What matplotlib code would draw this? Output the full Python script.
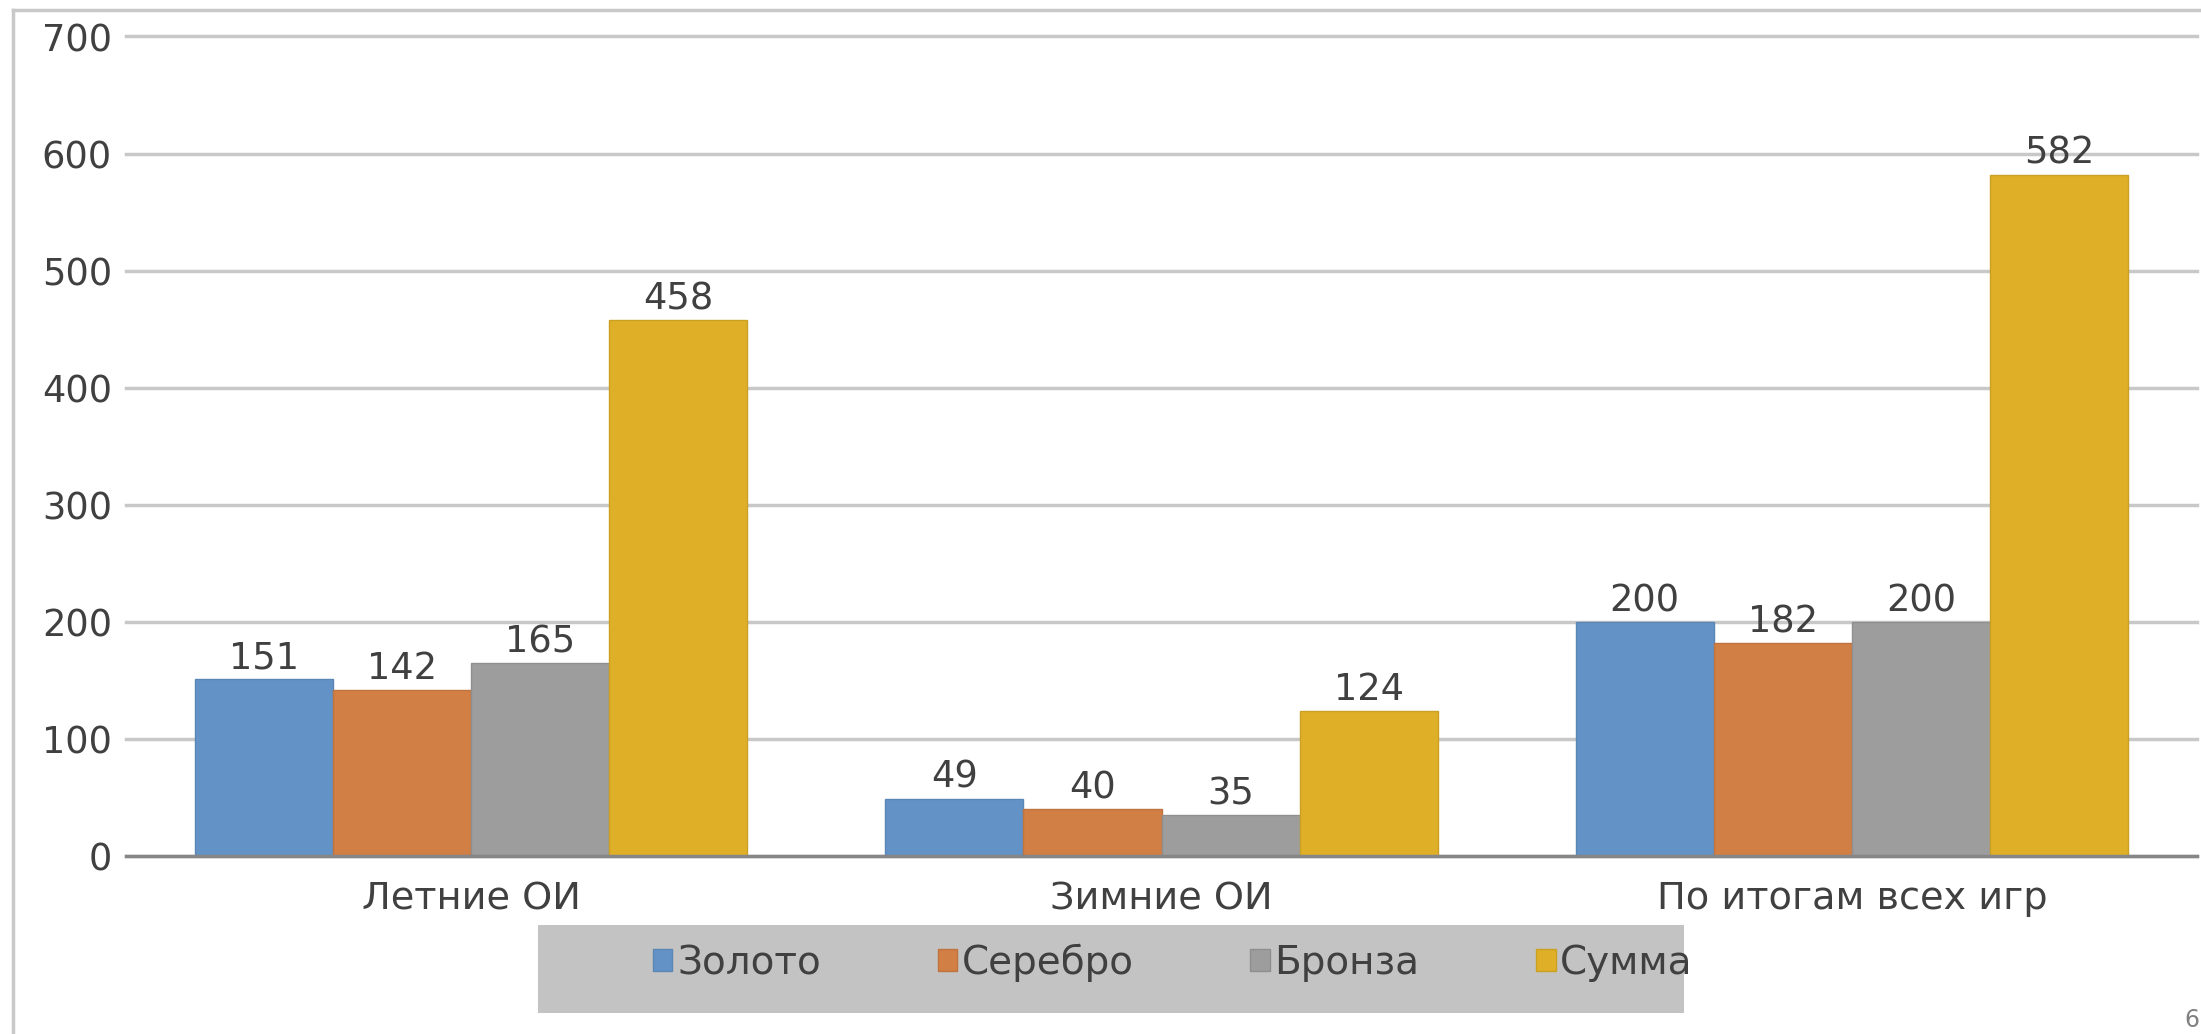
import matplotlib
matplotlib.use("Agg")
import matplotlib.pyplot as plt
import numpy as np
from matplotlib.patches import Rectangle
from matplotlib.lines import Line2D

categories = ["Летние ОИ", "Зимние ОИ", "По итогам всех игр"]
series_names = ["Золото", "Серебро", "Бронза", "Сумма"]
gold = [151, 49, 200]
silver = [142, 40, 182]
bronze = [165, 35, 200]
total = [458, 124, 582]
yticks = [0, 100, 200, 300, 400, 500, 600, 700]

colors = ["#6393c6", "#d27f45", "#9d9d9d", "#dfb027"]
edges = ["#5a86b5", "#bf733e", "#8f8f8f", "#cba022"]
text_color = "#404040"

plt.rcParams['font.family'] = ['DejaVu Sans']

W, H = 2201, 1034
fig = plt.figure(figsize=(W / 100, H / 100), dpi=100)
fig.patch.set_facecolor("white")

ax = fig.add_axes([126 / W, 1 - 856 / H, (2197 - 126) / W, (856 - 36.5) / H])

x = np.arange(len(categories))
width = 0.2
data = [gold, silver, bronze, total]
containers = []
for i, (vals, name) in enumerate(zip(data, series_names)):
    bc = ax.bar(x + (i - 1.5) * width, vals, width, color=colors[i],
                edgecolor=edges[i], linewidth=1, label=name, zorder=3)
    containers.append(bc)
    ax.bar_label(bc, padding=2, fontsize=26.5, color=text_color)

ax.set_xlim(-0.5, 2.5)
ax.set_ylim(0, 700)
ax.set_yticks(yticks)
ax.set_xticks(x)
ax.set_xticklabels(categories, fontsize=27.5, color=text_color)
ax.tick_params(axis='y', length=0, pad=10, labelsize=26.5, labelcolor=text_color)
ax.tick_params(axis='x', length=0, pad=18)
ax.yaxis.grid(True, color="#c8c8c8", linewidth=2.5, zorder=0)
for gl in ax.get_ygridlines():
    gl.set_clip_on(False)
ax.set_axisbelow(True)
for s in ["top", "right", "left"]:
    ax.spines[s].set_visible(False)
ax.spines["bottom"].set_color("#868686")
ax.spines["bottom"].set_linewidth(2.5)
ax.spines["bottom"].set_zorder(4)

# legend background box
fig.patches.append(Rectangle((538 / W, 1 - 1013 / H), (1684 - 538) / W, (1013 - 925) / H,
                             transform=fig.transFigure, facecolor="#c3c3c3",
                             edgecolor="none", zorder=0))
leg = fig.legend(handles=containers, labels=series_names, ncol=4,
                 loc="center left", bbox_to_anchor=(653 / W, 1 - 963 / H),
                 frameon=False, fontsize=28, handlelength=0.5, handleheight=0.5,
                 handletextpad=0.12, columnspacing=3.0, labelcolor=text_color,
                 borderpad=0, borderaxespad=0)

# border lines of the slide
fig.add_artist(Line2D([13 / W, 13 / W], [0, 1 - 10 / H], transform=fig.transFigure,
                      color="#c8c8c8", linewidth=2.5))
fig.add_artist(Line2D([13 / W, 1], [1 - 10 / H, 1 - 10 / H], transform=fig.transFigure,
                      color="#c8c8c8", linewidth=2.5))

fig.text(2199 / W, 2 / H, "6", fontsize=17, color="#808080", ha="right", va="bottom")

fig.savefig("out.png", dpi=100)
